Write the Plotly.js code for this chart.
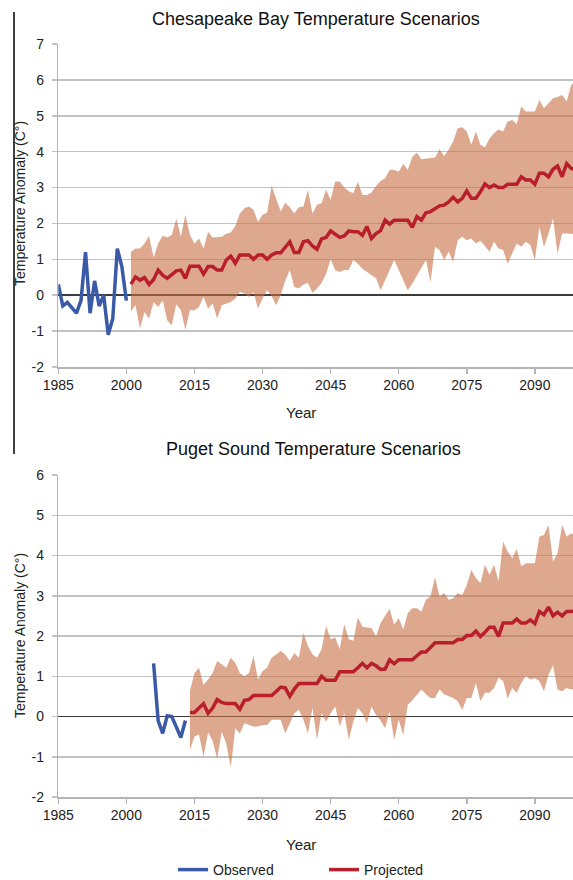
<!DOCTYPE html>
<html>
<head>
<meta charset="utf-8">
<script src="https://cdn.plot.ly/plotly-3.0.1.min.js"></script>
<style>
html,body{margin:0;padding:0;background:#ffffff;}
#chart{width:573px;height:880px;}
</style>
</head>
<body>
<div id="chart"></div>
<script>
// ---------- Chesapeake Bay ----------
const cbObsStart = 1985;
const cbObserved = [0.30,-0.30,-0.20,-0.35,-0.50,-0.15,1.20,-0.50,0.40,-0.30,0.00,-1.10,-0.65,1.30,0.80,-0.15];
const cbProjStart = 2001;
const cbMedian = [
0.31,0.51,0.42,0.49,0.30,0.44,0.70,0.56,0.47,0.59,
0.68,0.70,0.47,0.81,0.81,0.81,0.59,0.80,0.80,0.70,
0.70,0.98,1.09,0.89,1.12,1.12,1.12,1.00,1.12,1.12,
1.00,1.12,1.18,1.18,1.33,1.49,1.19,1.19,1.49,1.52,
1.37,1.28,1.57,1.61,1.79,1.70,1.61,1.65,1.79,1.77,
1.77,1.67,1.91,1.58,1.72,1.80,2.09,1.98,2.09,2.09,
2.09,2.09,1.89,2.19,2.09,2.30,2.33,2.42,2.49,2.51,
2.60,2.73,2.60,2.70,2.91,2.70,2.70,2.88,3.10,3.00,
3.07,3.00,3.00,3.09,3.09,3.09,3.30,3.21,3.21,3.09,
3.40,3.40,3.30,3.51,3.60,3.30,3.67,3.53,3.50];
const cbUpper = [
1.21,1.30,1.30,1.44,1.65,1.05,1.44,1.66,1.61,1.68,
2.14,1.63,2.24,1.68,1.44,1.58,1.30,1.77,1.61,1.61,
1.63,1.71,1.75,1.93,2.28,2.42,2.47,2.38,2.05,2.24,
2.30,3.05,2.66,2.33,2.58,2.45,2.28,2.45,2.47,2.94,
2.28,2.52,2.56,2.94,2.66,3.17,3.17,3.00,2.90,2.84,
3.16,2.79,2.79,2.86,3.04,3.18,3.26,3.49,3.49,3.44,
3.66,3.49,3.86,3.97,3.79,3.81,3.84,3.84,4.07,3.88,
4.05,4.28,4.65,4.68,4.56,4.19,4.56,4.19,4.12,4.37,
4.51,4.62,4.56,4.84,4.88,4.77,5.26,5.12,5.12,5.12,
5.44,5.21,5.35,5.49,5.52,5.58,5.40,5.86,5.95];
const cbLower = [
-0.45,-0.28,-0.93,-0.47,-0.65,-0.19,-0.33,-0.14,-0.70,-0.84,
-0.25,-0.42,-0.96,-0.42,-0.42,-0.33,-0.05,-0.37,-0.23,-0.65,
-0.28,-0.23,-0.19,-0.09,0.09,0.05,-0.05,0.09,-0.37,-0.09,
0.14,-0.03,-0.28,0.00,0.40,0.70,0.23,0.19,0.30,0.34,
0.07,0.19,0.34,0.60,1.00,0.70,0.65,0.70,0.70,0.98,
0.88,0.74,0.65,0.56,0.47,0.14,0.42,0.70,0.98,0.70,
0.42,0.14,0.33,0.56,0.79,0.98,0.37,1.35,1.26,0.98,
1.21,0.93,1.53,1.63,1.53,1.58,1.44,1.52,1.37,1.21,
1.49,1.30,1.26,0.88,1.16,1.44,1.35,1.49,1.40,0.98,
1.91,1.35,1.72,2.14,1.16,1.72,1.72,1.72,1.70];

// ---------- Puget Sound ----------
const psObsStart = 2006;
const psObserved = [1.32,-0.10,-0.42,0.02,0.00,-0.25,-0.52,-0.10];
const psProjStart = 2014;
const psMedian = [
0.10,0.10,0.21,0.32,0.08,0.21,0.42,0.35,0.32,0.32,
0.32,0.18,0.40,0.42,0.52,0.52,0.52,0.52,0.52,0.62,
0.73,0.71,0.50,0.68,0.82,0.82,0.82,0.82,0.82,1.00,
0.90,0.90,0.90,1.11,1.11,1.11,1.11,1.21,1.32,1.21,
1.32,1.26,1.17,1.18,1.41,1.31,1.41,1.41,1.41,1.41,
1.51,1.60,1.60,1.73,1.83,1.83,1.83,1.83,1.83,1.91,
1.91,2.01,2.01,2.12,1.99,2.09,2.22,2.22,1.99,2.32,
2.32,2.32,2.42,2.32,2.32,2.40,2.31,2.61,2.53,2.72,
2.50,2.59,2.50,2.61,2.61,2.62];
const psUpper = [
0.63,1.08,1.21,0.79,0.92,1.08,1.38,1.29,1.21,1.46,
1.33,1.08,1.00,1.08,1.50,0.92,1.13,1.21,1.46,1.54,
1.63,1.54,1.38,1.58,1.46,2.08,1.75,1.54,1.46,1.67,
2.25,1.92,1.96,1.67,2.29,1.92,1.88,2.46,2.23,2.21,
2.20,1.99,2.32,2.50,2.67,2.28,2.45,2.16,2.57,2.69,
2.69,2.61,2.90,2.98,3.46,2.98,3.07,2.90,2.94,3.07,
3.02,3.27,3.64,3.44,3.31,3.77,3.52,3.77,3.36,4.35,
4.10,3.93,4.16,3.73,3.81,3.81,3.81,4.47,4.51,4.76,
3.85,4.06,4.76,4.47,4.55,4.50];
const psLower = [
-0.83,-0.50,-0.45,-1.00,-0.40,-0.60,-1.05,-0.38,-0.67,-1.27,
-0.29,-0.42,-0.17,-0.21,-0.25,-0.25,-0.21,-0.21,-0.08,-0.08,
-0.08,-0.42,-0.17,0.08,0.17,-0.08,-0.42,0.21,-0.58,0.08,
-0.13,0.08,0.25,-0.25,0.08,-0.58,-0.13,0.21,0.08,-0.17,
0.25,0.04,-0.10,-0.29,0.12,-0.58,-0.08,-0.46,0.29,0.40,
0.54,0.67,0.55,0.46,0.46,0.67,0.55,0.50,0.46,0.38,
0.17,0.46,0.46,0.83,0.38,0.59,0.59,0.71,0.96,0.88,
0.45,0.71,0.59,0.83,1.00,0.92,0.95,0.88,0.63,1.04,
1.27,0.67,0.63,0.71,0.67,0.70];

const tickYears = [1985,2000,2015,2030,2045,2060,2075,2090];
const tickLabels = ['1985','2000','2015','2030','2045','2060','2075','2090'];
const cbYTicks = [-2,-1,0,1,2,3,4,5,6,7];
const cbYLabels = ['-2','-1','0','1','2','3','4','5','6','7'];
const psYTicks = [-2,-1,0,1,2,3,4,5,6];
const psYLabels = ['-2','-1','0','1','2','3','4','5','6'];
const titleTop = 'Chesapeake Bay Temperature Scenarios';
const titleBottom = 'Puget Sound Temperature Scenarios';
const yTitle = 'Temperature Anomaly (C°)';
const xTitle = 'Year';

function yearsFrom(start, n){ const r=[]; for(let i=0;i<n;i++) r.push(start+i); return r; }

const W = 573, H = 880;
const px = v => v / W;
const py = v => 1 - v / H;

const FONT = 'Liberation Sans, Arial, Helvetica, sans-serif';
const BAND = 'rgba(200,110,67,0.6)';
const RED = '#b81f2b';
const BLUE = '#3a5aa8';

function panel(xa, ya, obsStart, obs, projStart, med, up, lo, legend){
  const py_ = yearsFrom(projStart, med.length);
  return [
    {x: py_, y: lo, xaxis: xa, yaxis: ya, type:'scatter', mode:'lines', line:{width:0, color:BAND}, showlegend:false, hoverinfo:'skip'},
    {x: py_, y: up, xaxis: xa, yaxis: ya, type:'scatter', mode:'lines', line:{width:0, color:BAND}, fill:'tonexty', fillcolor:BAND, showlegend:false, hoverinfo:'skip'},
    {x: yearsFrom(obsStart, obs.length), y: obs, xaxis: xa, yaxis: ya, type:'scatter', mode:'lines', name:'Observed', legendrank:1, line:{color:BLUE, width:3.5}, showlegend:legend},
    {x: py_, y: med, xaxis: xa, yaxis: ya, type:'scatter', mode:'lines', name:'Projected', legendrank:2, line:{color:RED, width:3.5}, showlegend:legend}
  ];
}

const data = [].concat(
  panel('x','y', cbObsStart, cbObserved, cbProjStart, cbMedian, cbUpper, cbLower, true),
  panel('x2','y2', psObsStart, psObserved, psProjStart, psMedian, psUpper, psLower, false)
);

function xAxis(anchor){
  return {
    domain:[px(58.3), 1], range:[1985, 2098.4], anchor:anchor,
    tickmode:'array', tickvals:tickYears, ticktext:tickLabels,
    ticks:'outside', ticklen:5, tickwidth:1.5, tickcolor:'#b4b4b4',
    showline:true, linecolor:'#b4b4b4', linewidth:1.5,
    showgrid:false, zeroline:false, fixedrange:true, automargin:false,
    tickfont:{family:FONT, size:14, color:'#222'}
  };
}
function yAxis(anchor, dom, rng, tv, tt){
  return {
    domain:dom, range:rng, anchor:anchor,
    tickmode:'array', tickvals:tv, ticktext:tt,
    ticks:'outside', ticklen:5, tickwidth:1.5, tickcolor:'#c4c4c4', ticklabelstandoff:5,
    showline:true, linecolor:'#b4b4b4', linewidth:1.5,
    showgrid:true, gridcolor:'#c2c2c2', gridwidth:1.5,
    zeroline:true, zerolinecolor:'#3c3c3c', zerolinewidth:1.5, fixedrange:true, automargin:false,
    tickfont:{family:FONT, size:14, color:'#222'}
  };
}

const layout = {
  width:W, height:H, margin:{l:0,r:0,t:0,b:0, autoexpand:false},
  paper_bgcolor:'#ffffff', plot_bgcolor:'#ffffff',
  font:{family:FONT, color:'#222'},
  xaxis: xAxis('y'),
  yaxis: yAxis('x', [py(367), py(44)], [-2,7], cbYTicks, cbYLabels),
  xaxis2: xAxis('y2'),
  yaxis2: yAxis('x2', [py(797), py(475)], [-2,6], psYTicks, psYLabels),
  showlegend:true,
  legend:{orientation:'h', x:px(173), xanchor:'left', y:py(870), yanchor:'middle',
          font:{family:FONT, size:14, color:'#222'}, entrywidth:106, entrywidthmode:'pixels',
          bgcolor:'rgba(0,0,0,0)', borderwidth:0, traceorder:'normal'},
  annotations:[
    {text:titleTop, x:px(316), y:py(19), xref:'paper', yref:'paper', xanchor:'center', yanchor:'middle', showarrow:false, font:{family:FONT, size:18, color:'#111'}},
    {text:titleBottom, x:px(313), y:py(449), xref:'paper', yref:'paper', xanchor:'center', yanchor:'middle', showarrow:false, font:{family:FONT, size:18, color:'#111'}},
    {text:yTitle, x:px(20), y:py(204), xref:'paper', yref:'paper', xanchor:'center', yanchor:'middle', textangle:-90, showarrow:false, font:{family:FONT, size:14, color:'#222'}},
    {text:yTitle, x:px(20), y:py(636), xref:'paper', yref:'paper', xanchor:'center', yanchor:'middle', textangle:-90, showarrow:false, font:{family:FONT, size:14, color:'#222'}},
    {text:xTitle, x:px(301), y:py(413), xref:'paper', yref:'paper', xanchor:'center', yanchor:'middle', showarrow:false, font:{family:FONT, size:15, color:'#222'}},
    {text:xTitle, x:px(301), y:py(844), xref:'paper', yref:'paper', xanchor:'center', yanchor:'middle', showarrow:false, font:{family:FONT, size:15, color:'#222'}}
  ],
  shapes:[
    {type:'line', xref:'paper', yref:'paper', x0:px(14), x1:px(14), y0:py(12), y1:py(454), line:{color:'#000', width:1.5}}
  ]
};

Plotly.newPlot('chart', data, layout, {displayModeBar:false, staticPlot:true});
</script>
</body>
</html>
